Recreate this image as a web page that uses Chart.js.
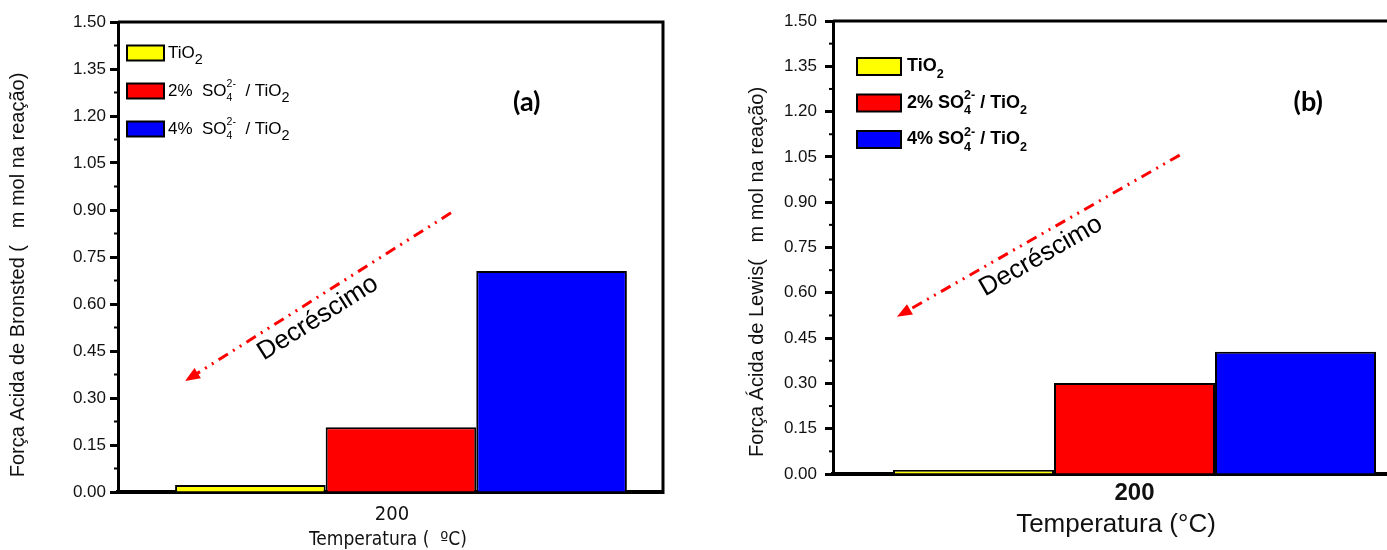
<!DOCTYPE html>
<html>
<head>
<meta charset="utf-8">
<script src="https://cdn.jsdelivr.net/npm/chart.js@4.4.1/dist/chart.umd.min.js"></script>
<style>
  html, body { margin: 0; padding: 0; background: #fff; overflow: hidden; width: 1387px; height: 550px; }
  .panel { position: absolute; top: 0; height: 550px; }
  #panelA { left: 0; width: 700px; }
  #panelB { left: 700px; width: 760px; }
</style>
</head>
<body>
<div class="panel" id="panelA"><canvas id="chartA" width="700" height="550"></canvas></div>
<div class="panel" id="panelB"><canvas id="chartB" width="760" height="550"></canvas></div>
<script>
// ---- data ----
const categories = ["200"];
const seriesColors = ["#FFFF00", "#FF0000", "#0000FF"];
const seriesNamesA = ["TiO_{2}", "2%  SO_{4}^{2-}  / TiO_{2}", "4%  SO_{4}^{2-}  / TiO_{2}"];
const seriesNamesB = ["TiO_{2}", "2% SO_{4}^{2-} / TiO_{2}", "4% SO_{4}^{2-} / TiO_{2}"];
const bronstedValues = [0.022, 0.207, 0.705];   // TiO2, 2%, 4%
const lewisValues = [0.013, 0.301, 0.405];
const yTickValues = [0, 0.15, 0.30, 0.45, 0.60, 0.75, 0.90, 1.05, 1.20, 1.35, 1.50];

const SANS = "'Liberation Sans', Arial, sans-serif";
const NARROW = "'Liberation Sans Narrow', 'Arial Narrow', 'DejaVu Sans Condensed', sans-serif";

// tiny markup: _{sub} ^{sup}, a sub directly followed by a sup is stacked
function parseRich(s) {
  const out = [];
  const re = /_\{([^}]*)\}(\^\{([^}]*)\})?|\^\{([^}]*)\}|[^_^]+/g;
  let m;
  while ((m = re.exec(s))) {
    if (m[0][0] === "_") out.push({ sub: m[1], sup: m[3] });
    else if (m[0][0] === "^") out.push({ sup: m[4] });
    else out.push({ text: m[0] });
  }
  return out;
}

function drawRich(ctx, str, x, y, st) {
  const f = (size) => `${st.weight} ${size}px ${st.family}`;
  ctx.textBaseline = "middle";
  ctx.textAlign = "left";
  for (const t of parseRich(str)) {
    if (t.text !== undefined) {
      ctx.font = f(st.size);
      ctx.fillText(t.text, x, y);
      x += ctx.measureText(t.text).width;
      continue;
    }
    const stacked = t.sub !== undefined && t.sup !== undefined;
    ctx.font = f(st.size * (stacked ? st.stackScale : st.subScale));
    let w = 0;
    if (t.sub !== undefined) {
      ctx.fillText(t.sub, x, y + st.size * st.subDy);
      w = Math.max(w, ctx.measureText(t.sub).width);
    }
    if (t.sup !== undefined) {
      ctx.fillText(t.sup, x, y - st.size * st.supDy);
      w = Math.max(w, ctx.measureText(t.sup).width);
    }
    x += w;
  }
}

function dashArrow(ctx, x1, y1, x2, y2) {
  ctx.save();
  ctx.strokeStyle = "#FF0000";
  ctx.fillStyle = "#FF0000";
  ctx.lineWidth = 3;
  ctx.setLineDash([11, 6, 2, 6, 2, 6]);
  const a = Math.atan2(y2 - y1, x2 - x1);
  const head = 15;
  ctx.beginPath();
  ctx.moveTo(x1, y1);
  ctx.lineTo(x2 - Math.cos(a) * head * 0.8, y2 - Math.sin(a) * head * 0.8);
  ctx.stroke();
  ctx.setLineDash([]);
  ctx.beginPath();
  ctx.moveTo(x2, y2);
  ctx.lineTo(x2 - head * Math.cos(a) + 6 * Math.sin(a), y2 - head * Math.sin(a) - 6 * Math.cos(a));
  ctx.lineTo(x2 - head * Math.cos(a) - 6 * Math.sin(a), y2 - head * Math.sin(a) + 6 * Math.cos(a));
  ctx.closePath();
  ctx.fill();
  ctx.restore();
}

// frame, minor ticks, axis titles, legend, arrow & panel letter
const decorPlugin = {
  id: "decor",
  afterDraw(chart) {
    const p = chart.config.options.plugins.decor;
    const { ctx, chartArea: a } = chart;
    const fx = (v) => a.left + v * (a.right - a.left);
    const fy = (v) => a.top + v * (a.bottom - a.top);
    const yScale = chart.scales.y;
    ctx.save();

    // top + right frame
    ctx.strokeStyle = "#000";
    ctx.lineWidth = 3;
    ctx.beginPath();
    ctx.moveTo(a.left, a.top);
    ctx.lineTo(a.right, a.top);
    ctx.lineTo(a.right, a.bottom + 2);
    ctx.stroke();

    // minor ticks
    ctx.lineWidth = 2;
    for (let i = 0; i < yTickValues.length - 1; i++) {
      const py = yScale.getPixelForValue((yTickValues[i] + yTickValues[i + 1]) / 2);
      ctx.beginPath();
      ctx.moveTo(a.left - 4, py);
      ctx.lineTo(a.left, py);
      ctx.stroke();
    }

    // axis titles
    ctx.fillStyle = "#111";
    ctx.textAlign = "center";
    ctx.textBaseline = "middle";
    ctx.font = p.yTitle.font;
    ctx.save();
    ctx.translate(p.yTitle.x, p.yTitle.y);
    ctx.rotate(-Math.PI / 2);
    ctx.fillText(p.yTitle.text, 0, 0);
    ctx.restore();
    ctx.font = p.xTitle.font;
    ctx.fillText(p.xTitle.text, p.xTitle.x, p.xTitle.y);

    // legend
    const lg = p.legend;
    chart.data.datasets.forEach((ds, i) => {
      const cy = a.top + lg.top + i * lg.gap;
      const bx = a.left + lg.left;
      ctx.fillStyle = ds.backgroundColor;
      ctx.fillRect(bx, cy - lg.boxH / 2, lg.boxW, lg.boxH);
      ctx.strokeStyle = "#000";
      ctx.lineWidth = 2;
      ctx.strokeRect(bx, cy - lg.boxH / 2, lg.boxW, lg.boxH);
      ctx.fillStyle = "#000";
      drawRich(ctx, ds.label, bx + lg.boxW + lg.textGap, cy, lg.style);
    });

    // decreasing arrow + label
    const ar = p.arrow;
    dashArrow(ctx, fx(ar.from[0]), fy(ar.from[1]), fx(ar.to[0]), fy(ar.to[1]));
    const ang = Math.atan2(fy(ar.from[1]) - fy(ar.to[1]), fx(ar.from[0]) - fx(ar.to[0]));
    ctx.save();
    ctx.translate(fx(ar.text[0]), fy(ar.text[1]));
    ctx.rotate(ang);
    ctx.fillStyle = "#000";
    ctx.font = ar.font;
    ctx.textAlign = "center";
    ctx.textBaseline = "middle";
    ctx.fillText("Decréscimo", 0, 0);
    ctx.restore();

    // panel letter
    ctx.font = "bold 27px Lato, 'Open Sans', sans-serif";
    ctx.textAlign = "center";
    ctx.fillText(p.letter.text, fx(p.letter.pos[0]), fy(p.letter.pos[1]));

    ctx.restore();
  }
};

function buildPanel(canvasId, values, names, p) {
  return new Chart(document.getElementById(canvasId), {
    type: "bar",
    data: {
      datasets: seriesColors.map((c, i) => ({
        label: names[i],
        data: categories.map((_, k) => ({ x: k, y: values[i] })),
        backgroundColor: c,
        borderColor: "#000",
        borderWidth: 2,
        categoryPercentage: p.groupPct,
        barPercentage: 1
      }))
    },
    plugins: [decorPlugin],
    options: {
      responsive: false,
      animation: false,
      layout: { padding: p.padding },
      plugins: {
        legend: { display: false },
        tooltip: { enabled: false },
        decor: p.decor
      },
      scales: {
        x: {
          type: "linear",
          min: p.xMin,
          max: p.xMax,
          offset: false,
          afterBuildTicks: (s) => { s.ticks = categories.map((_, k) => ({ value: k })); },
          afterFit: (s) => { s.height = p.xHeight; },
          grid: { display: false, drawTicks: false },
          border: { color: "#000", width: 4 },
          ticks: {
            callback: (v) => categories[v] ?? "",
            font: p.xTickFont,
            color: "#111",
            padding: p.xTickPad,
            labelOffset: p.xLabelOffset,
            maxRotation: 0
          }
        },
        y: {
          min: 0,
          max: 1.5,
          afterBuildTicks: (s) => { s.ticks = yTickValues.map((v) => ({ value: v })); },
          afterFit: (s) => { s.width = p.yWidth; },
          grid: { drawOnChartArea: false, drawTicks: true, tickLength: 8, tickWidth: 3, tickColor: "#000" },
          border: { color: "#000", width: 3 },
          ticks: {
            callback: (v) => v.toFixed(2),
            font: { family: SANS, size: 17 },
            color: "#111",
            padding: p.yTickPad
          }
        }
      }
    }
  });
}

buildPanel("chartA", bronstedValues, seriesNamesA, {
  padding: { left: 0, top: 22, right: 37, bottom: 0 },
  yWidth: 118,
  xHeight: 58,
  xMin: -1,
  xMax: 0.926,
  groupPct: 0.829,
  xTickFont: { family: NARROW, size: 20 },
  xTickPad: 11,
  xLabelOffset: -9,
  yTickPad: 4,
  decor: {
    yTitle: { text: "Força Acida de Bronsted (   m mol na reação)", font: `20px ${SANS}`, x: 18, y: 275 },
    xTitle: { text: "Temperatura (  ºC)", font: `19px ${NARROW}`, x: 388, y: 540 },
    legend: {
      left: 9, top: 31, gap: 38, boxW: 37, boxH: 15, textGap: 4,
      style: { family: SANS, weight: "normal", size: 17, subScale: 0.85, stackScale: 0.62, subDy: 0.42, supDy: 0.38 }
    },
    arrow: { from: [0.611, 0.406], to: [0.123, 0.764], text: [0.367, 0.630], font: `26px ${SANS}` },
    letter: { text: "(a)", pos: [0.750, 0.170] }
  }
});

buildPanel("chartB", lewisValues, seriesNamesB, {
  padding: { left: 0, top: 21, right: 24, bottom: 0 },
  yWidth: 133,
  xHeight: 76,
  xMin: -1,
  xMax: 1,
  groupPct: 0.801,
  xTickFont: { family: SANS, size: 24, weight: "bold" },
  xTickPad: 5,
  xLabelOffset: 0,
  yTickPad: 8,
  decor: {
    yTitle: { text: "Força Ácida de Lewis(   m mol na reação)", font: `20px ${SANS}`, x: 57, y: 272 },
    xTitle: { text: "Temperatura (°C)", font: `26px ${SANS}`, x: 416, y: 525 },
    legend: {
      left: 24, top: 45.5, gap: 36.5, boxW: 44, boxH: 17, textGap: 6,
      style: { family: SANS, weight: "bold", size: 18, subScale: 0.7, stackScale: 0.7, subDy: 0.42, supDy: 0.4 }
    },
    arrow: { from: [0.575, 0.296], to: [0.106, 0.653], text: [0.345, 0.519], font: `26px ${SANS}` },
    letter: { text: "(b)", pos: [0.788, 0.179] }
  }
});
</script>
</body>
</html>
